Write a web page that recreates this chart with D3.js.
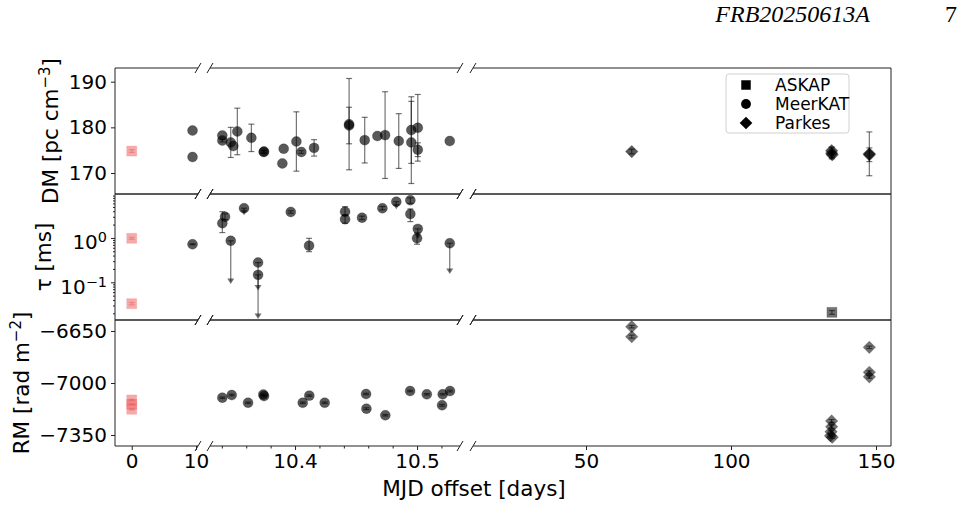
<!DOCTYPE html>
<html>
<head>
<meta charset="utf-8">
<script src="https://cdn.jsdelivr.net/npm/d3@7"></script>
<style>
  body { margin: 0; background: #fff; }
  svg { display: block; font-family: "DejaVu Sans", sans-serif; }
</style>
</head>
<body>
<div id="chart"></div>
<script>
// ---- data ----
// [mjd offset, value, err] or [mjd offset, value, lo, hi]
const discoveryDM = [[0, 174.8, 0.3]];
const discoveryTau = [[0, 0.98, 0.93, 1.03], [0, 0.033, 0.031, 0.035]];
const discoveryRM = [[0, -7114, 4], [0, -7143, 4], [0, -7177, 4]];

const meerkatDM = [
  [9.45, 179.3, 0], [9.45, 173.5, 0],
  [10.3404, 178.2, 0], [10.3404, 177.1, 0.3], [10.3473, 176.7, 3.3], [10.3494, 175.9, 0],
  [10.3527, 179.1, 5.1], [10.3642, 177.7, 3.0], [10.3743, 174.6, 0.3], [10.3746, 174.7, 0.3],
  [10.3896, 172.1, 0], [10.3907, 175.3, 0], [10.4011, 176.9, 6.5], [10.4052, 174.6, 0.3],
  [10.4156, 175.5, 1.8], [10.4443, 180.7, 10], [10.4443, 180.4, 4], [10.4571, 177.2, 5],
  [10.4675, 178.1, 0], [10.4738, 178.3, 9.5], [10.4850, 177.0, 6], [10.4953, 179.4, 7.3],
  [10.4953, 176.7, 9], [10.5006, 179.9, 7.3], [10.5006, 175.1, 1.5], [10.5268, 177.0, 0]
];
const parkesDM = [
  [65.76, 174.7, 0.5], [134.7, 174.9, 0.8], [134.7, 174.3, 1.2], [134.9, 174.0, 0.6],
  [147.7, 174.2, 4.8], [147.7, 174.0, 1.5]
];

const meerkatTau = [
  [9.45, 0.72, 0.70, 0.74], [10.3404, 2.14, 1.32, 3.9], [10.3426, 3.0, 2.6, 3.5],
  [10.3965, 3.85, 3.6, 4.1], [10.4115, 0.67, 0.49, 0.98], [10.441, 3.9, 3.3, 5.07],
  [10.441, 2.64, 2.14, 3.2], [10.4549, 2.86, 2.6, 3.1], [10.4716, 4.67, 4.3, 5.1],
  [10.4945, 7.07, 6.0, 8.0], [10.4945, 3.47, 2.33, 4.5], [10.5, 0.98, 0.72, 1.3]
];
// upper limits: [mjd offset, value, arrow tip]
const meerkatTauLim = [
  [10.3473, 0.86, 0.104], [10.3582, 4.67, 3.7], [10.3697, 0.278, 0.074],
  [10.3697, 0.147, 0.0169], [10.483, 6.57, 5.07], [10.5006, 1.6, 1.07], [10.5268, 0.76, 0.174]
];
const askapTau = [[134.8, 0.021, 0.019, 0.023]];

const meerkatRM = [
  [10.3404, -7099, 5], [10.3481, -7081, 5], [10.3615, -7133, 5], [10.374, -7078, 5],
  [10.3746, -7088, 5], [10.4063, -7133, 5], [10.4117, -7085, 5], [10.4243, -7133, 5],
  [10.4582, -7074, 5], [10.4585, -7173, 6], [10.474, -7217, 5], [10.4943, -7054, 5],
  [10.508, -7076, 5], [10.521, -7076, 5], [10.5205, -7150, 6], [10.527, -7054, 6]
];
const parkesRM = [
  [65.76, -6621, 8], [65.76, -6688, 10], [147.7, -6760, 8], [147.7, -6928, 10],
  [147.7, -6958, 10], [134.7, -7256, 10], [134.7, -7294, 12], [134.5, -7328, 10],
  [134.3, -7355, 8], [134.9, -7365, 8]
];

const dmTicks = [170, 180, 190];
const tauTicks = [0.1, 1];
const rmTicks = [-7350, -7000, -6650];
const xTicks = [[0, 10], [10.4, 10.5], [50, 100, 150]];
const legendNames = ["ASKAP", "MeerKAT", "Parkes"];

// ---- layout ----
const width = 964, height = 506;
const rows = [{ top: 68, bottom: 194 }, { top: 194, bottom: 320 }, { top: 320, bottom: 446 }];
const segs = [
  { domain: [-2.6, 10.3], range: [115, 198] },
  { domain: [10.3303, 10.5352], range: [210, 460] },
  { domain: [11.03, 155.17], range: [473, 891] }
];
const xs = segs.map(s => d3.scaleLinear().domain(s.domain).range(s.range));
const segIndex = t => (t < 10.31 ? 0 : t < 11 ? 1 : 2);

const yDM = d3.scaleLinear().domain([165.4, 193]).range([194, 68]);
const yTau = d3.scaleLog().domain([10 ** -1.85, 10 ** 0.99]).range([320, 194]);
const yRM = d3.scaleLinear().domain([-7424, -6576]).range([446, 320]);

const svg = d3.select("#chart").append("svg").attr("width", width).attr("height", height);
const defs = svg.append("defs");

const groups = rows.map((row, ri) => segs.map((seg, si) => {
  const id = `clip-${ri}-${si}`;
  defs.append("clipPath").attr("id", id).append("rect")
    .attr("x", seg.range[0]).attr("y", row.top)
    .attr("width", seg.range[1] - seg.range[0]).attr("height", row.bottom - row.top);
  return svg.append("g").attr("clip-path", `url(#${id})`);
}));

const symbols = {
  square: d3.symbol(d3.symbolSquare, 100)(),
  circle: d3.symbol(d3.symbolCircle, 78)(),
  diamond: d3.symbol(d3.symbolSquare, 76)()
};
const GREY = "#000";
const PINK = "#ee6666";
const BAR = "rgba(0,0,0,0.55)";
const PINKBAR = "rgba(220,90,90,0.45)";

function plot(ri, y, data, shape, color, alpha) {
  segs.forEach((s, si) => {
    const pts = data.filter(d => segIndex(d[0]) === si);
    groups[ri][si].selectAll(null).data(pts).enter().append("path")
      .attr("d", symbols[shape])
      .attr("transform", d => `translate(${xs[si](d[0])},${y(d[1])})` + (shape === "diamond" ? " rotate(45)" : ""))
      .attr("fill", color).attr("fill-opacity", alpha)
      .attr("stroke", color).attr("stroke-opacity", alpha * 0.35).attr("stroke-width", 1);
  });
}

const lo = d => (d.length === 4 ? d[2] : d[1] - d[2]);
const hi = d => (d.length === 4 ? d[3] : d[1] + d[2]);

function errs(ri, y, data, color) {
  segs.forEach((s, si) => {
    const pts = data.filter(d => segIndex(d[0]) === si && (d.length === 4 || d[2] > 0));
    const g = groups[ri][si].selectAll(null).data(pts).enter().append("g")
      .attr("stroke", color).attr("stroke-width", 1.2);
    g.append("line")
      .attr("x1", d => xs[si](d[0])).attr("x2", d => xs[si](d[0]))
      .attr("y1", d => y(lo(d))).attr("y2", d => y(hi(d)));
    [lo, hi].forEach(f => {
      g.append("line")
        .attr("x1", d => xs[si](d[0]) - 3).attr("x2", d => xs[si](d[0]) + 3)
        .attr("y1", d => y(f(d))).attr("y2", d => y(f(d)));
    });
  });
}

function limits(ri, y, data, color) {
  segs.forEach((s, si) => {
    const pts = data.filter(d => segIndex(d[0]) === si);
    const g = groups[ri][si].selectAll(null).data(pts).enter().append("g");
    g.append("line")
      .attr("x1", d => xs[si](d[0])).attr("x2", d => xs[si](d[0]))
      .attr("y1", d => y(d[1])).attr("y2", d => y(d[2]))
      .attr("stroke", color).attr("stroke-width", 1.2);
    g.append("line")
      .attr("x1", d => xs[si](d[0]) - 3).attr("x2", d => xs[si](d[0]) + 3)
      .attr("y1", d => y(d[1])).attr("y2", d => y(d[1]))
      .attr("stroke", color).attr("stroke-width", 1.2);
    g.append("path")
      .attr("d", "M-3.5,-3L3.5,-3L0,2.5Z")
      .attr("transform", d => `translate(${xs[si](d[0])},${y(d[2])})`)
      .attr("fill", color);
  });
}

// DM panel
plot(0, yDM, discoveryDM, "square", PINK, 0.55);
errs(0, yDM, discoveryDM, PINKBAR);
plot(0, yDM, meerkatDM, "circle", GREY, 0.65);
plot(0, yDM, parkesDM, "diamond", GREY, 0.65);
errs(0, yDM, meerkatDM, BAR);
errs(0, yDM, parkesDM, BAR);

// scattering panel
plot(1, yTau, discoveryTau, "square", PINK, 0.55);
errs(1, yTau, discoveryTau, PINKBAR);
plot(1, yTau, meerkatTau, "circle", GREY, 0.65);
plot(1, yTau, meerkatTauLim, "circle", GREY, 0.65);
plot(1, yTau, askapTau, "square", GREY, 0.55);
errs(1, yTau, meerkatTau, BAR);
errs(1, yTau, askapTau, BAR);
limits(1, yTau, meerkatTauLim, BAR);

// RM panel
plot(2, yRM, discoveryRM, "square", PINK, 0.55);
errs(2, yRM, discoveryRM, PINKBAR);
plot(2, yRM, meerkatRM, "circle", GREY, 0.65);
plot(2, yRM, parkesRM, "diamond", GREY, 0.55);
errs(2, yRM, meerkatRM, BAR);
errs(2, yRM, parkesRM, BAR);

// ---- spines and break marks ----
const frame = svg.append("g").attr("stroke", "#222").attr("stroke-width", 1).attr("fill", "none");
rows.forEach(row => {
  [row.top, row.bottom].forEach(yy => {
    segs.forEach(s => {
      frame.append("line").attr("x1", s.range[0]).attr("x2", s.range[1]).attr("y1", yy).attr("y2", yy);
    });
    [198, 210, 460, 473].forEach(bx => {
      frame.append("line").attr("x1", bx - 3).attr("x2", bx + 3).attr("y1", yy + 5).attr("y2", yy - 5);
    });
  });
  frame.append("line").attr("x1", 115).attr("x2", 115).attr("y1", row.top).attr("y2", row.bottom);
  frame.append("line").attr("x1", 891).attr("x2", 891).attr("y1", row.top).attr("y2", row.bottom);
});

// ---- axes ----
const FS = "20px";
function styleAxis(g) {
  g.select(".domain").remove();
  g.selectAll(".tick line").attr("stroke", "#222");
  g.selectAll(".tick text").attr("font-size", FS).attr("font-family", "DejaVu Sans").attr("fill", "#000");
}

xs.forEach((x, si) => {
  const fmt = si === 1 ? d3.format(".1f") : d3.format("d");
  svg.append("g").attr("transform", "translate(0,446)")
    .call(d3.axisBottom(x).tickValues(xTicks[si]).tickFormat(fmt).tickSize(4).tickPadding(4).tickSizeOuter(0))
    .call(styleAxis);
});
svg.append("g").attr("transform", "translate(0,446)")
  .call(d3.axisBottom(xs[1]).tickValues(d3.range(10.34, 10.53, 0.02).filter(v => Math.abs(v - 10.4) > 0.005 && Math.abs(v - 10.5) > 0.005))
    .tickFormat("").tickSize(2.5).tickSizeOuter(0))
  .call(styleAxis);

svg.append("g").attr("transform", "translate(115,0)")
  .call(d3.axisLeft(yDM).tickValues(dmTicks).tickFormat(d3.format("d")).tickSize(4).tickPadding(4).tickSizeOuter(0))
  .call(styleAxis);
svg.append("g").attr("transform", "translate(115,0)")
  .call(d3.axisLeft(yRM).tickValues(rmTicks).tickFormat(d3.format("d")).tickSize(4).tickPadding(4).tickSizeOuter(0))
  .call(styleAxis);
const tauAxis = svg.append("g").attr("transform", "translate(115,0)")
  .call(d3.axisLeft(yTau).tickValues(tauTicks).tickSize(4).tickPadding(4).tickSizeOuter(0))
  .call(styleAxis);
tauAxis.selectAll(".tick text").text("").attr("dy", "0.55em").each(function (d) {
  const e = Math.round(Math.log10(d));
  const t = d3.select(this);
  t.append("tspan").text("10");
  t.append("tspan").attr("dy", "-0.5em").attr("font-size", "0.72em").text(e < 0 ? "\u2212" + (-e) : e);
});
svg.append("g").attr("transform", "translate(115,0)")
  .call(d3.axisLeft(yTau).tickValues(yTau.ticks().filter(v => !tauTicks.includes(v))).tickFormat("").tickSize(2).tickSizeOuter(0))
  .call(styleAxis);

// ---- labels ----
function ylabel(xb, cy, main, sup, tail) {
  const t = svg.append("text")
    .attr("transform", `translate(${xb},${cy}) rotate(-90)`)
    .attr("text-anchor", "middle").attr("font-size", "21.5px");
  t.append("tspan").text(main);
  if (sup) {
    t.append("tspan").attr("dy", -8).attr("font-size", "15px").text(sup);
    t.append("tspan").attr("dy", 8).text(tail);
  }
}
ylabel(58, 131, "DM [pc cm", "\u22123", "]");
ylabel(51, 257, "\u03c4 [ms]");
ylabel(29, 383, "RM [rad m", "\u22122", "]");

svg.append("text").attr("x", 474).attr("y", 496).attr("text-anchor", "middle")
  .attr("font-size", "21.5px").text("MJD offset [days]");

svg.append("text").attr("x", 870).attr("y", 22).attr("text-anchor", "end")
  .attr("font-family", "Liberation Serif").attr("font-style", "italic").attr("font-size", "24px")
  .text("FRB20250613A");
svg.append("text").attr("x", 957).attr("y", 22).attr("text-anchor", "end")
  .attr("font-family", "Liberation Serif").attr("font-size", "24px").text("7");

// ---- legend ----
const leg = svg.append("g");
leg.append("rect").attr("x", 726).attr("y", 74).attr("width", 123).attr("height", 59).attr("rx", 3)
  .attr("fill", "#fff").attr("fill-opacity", 0.8).attr("stroke", "#d0d0d0");
const legShapes = ["square", "circle", "diamond"];
const legItems = leg.selectAll(null).data(legendNames).enter().append("g")
  .attr("transform", (d, i) => `translate(746,${85 + i * 19})`);
legItems.append("path")
  .attr("d", (d, i) => d3.symbol(i === 1 ? d3.symbolCircle : d3.symbolSquare, i === 1 ? 76 : i === 2 ? 80 : 90)())
  .attr("transform", (d, i) => (legShapes[i] === "diamond" ? "rotate(45)" : ""))
  .attr("fill", "#000");
legItems.append("text").attr("x", 29).attr("dy", "0.35em").attr("font-size", "17px").text(d => d);
</script>
</body>
</html>
